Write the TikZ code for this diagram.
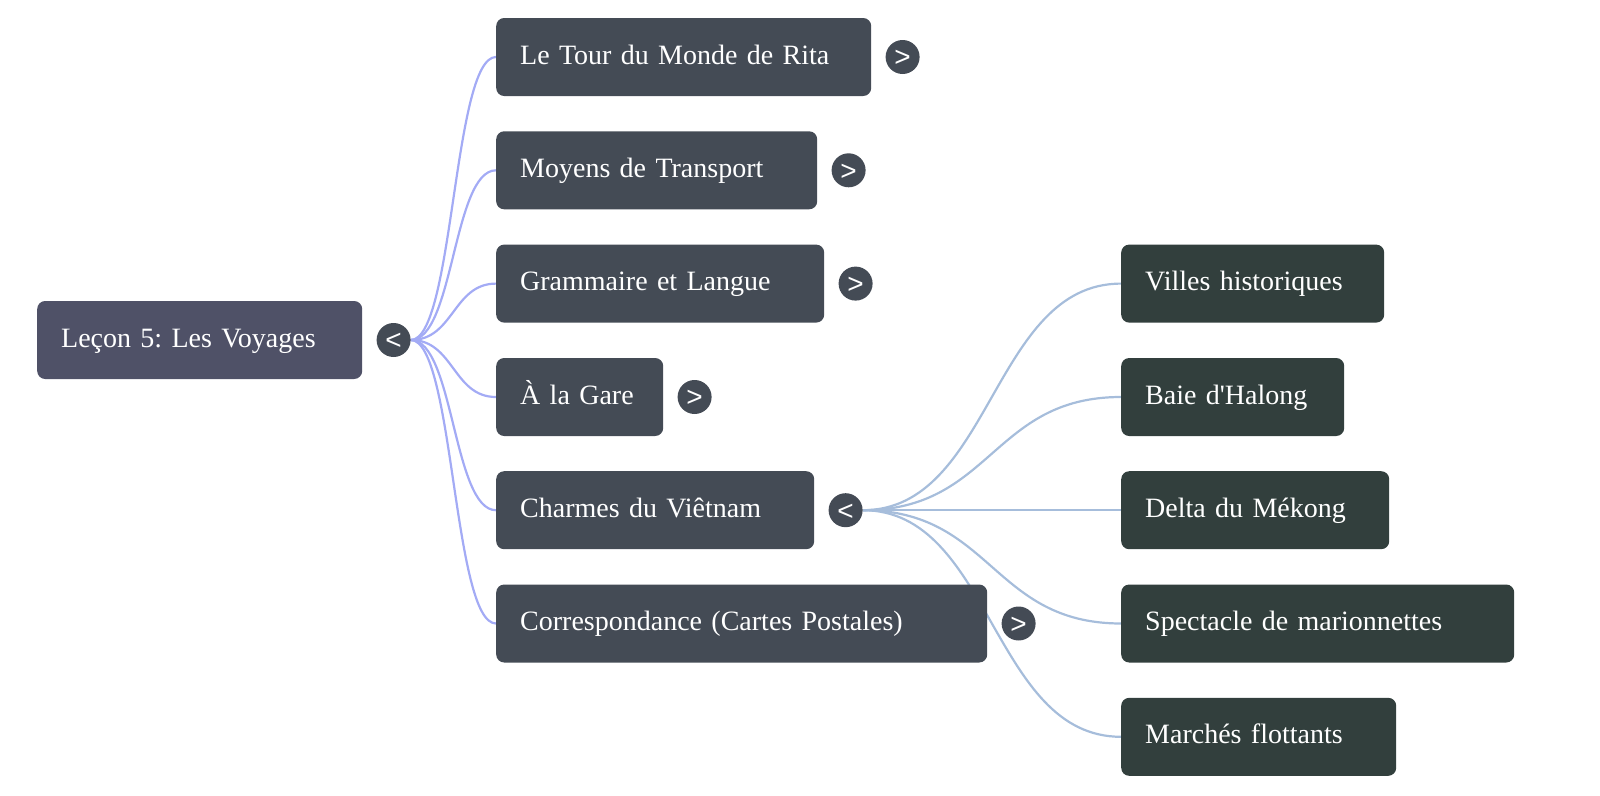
\documentclass[tikz,border=0pt]{standalone}
\usepackage{fontspec}
\setmainfont{Liberation Serif}
\newfontfamily\togglefont{Liberation Sans}
\usetikzlibrary{positioning,backgrounds}
\definecolor{rootfill}{HTML}{4F5167}
\definecolor{onefill}{HTML}{444B55}
\definecolor{twofill}{HTML}{323F3D}
\definecolor{rootline}{HTML}{A3ABF5}
\definecolor{subline}{HTML}{A6BDDB}
\tikzset{
	box/.style={rounded corners=8pt, text=white, minimum height=78pt, text height=21pt, text depth=7pt, inner xsep=24pt, inner ysep=0pt, align=left, anchor=west, font=\fontsize{28}{32}\selectfont\frenchspacing},
	rootbox/.style={box, fill=rootfill},
	lvlone/.style={box, fill=onefill},
	lvltwo/.style={box, fill=twofill},
	toggle/.style={circle, fill=onefill, text=white, minimum size=34pt, inner sep=0pt, text height=19.6pt, text depth=0pt, font=\togglefont\fontsize{28}{28}\selectfont},
	rootedge/.style={draw=rootline, line width=2.2pt},
	subedge/.style={draw=subline, line width=2.2pt}
}

\begin{document}
\begin{tikzpicture}[x=1pt, y=-1pt]
			%%%%% START %%%%%
			\useasboundingbox (0,0) rectangle (1600,795);
			
			\node[rootbox, text width=277pt] (root) at (37,340) {Leçon 5: Les Voyages};
			\node[toggle, right=14pt of root] (troot) {<};
			
			\node[lvlone, text width=327pt] (tour) at (496,57) {Le Tour du Monde de Rita};
			\node[lvlone, text width=273pt] (moyens) at (496,170.3) {Moyens de Transport};
			\node[lvlone, text width=280pt] (gram) at (496,283.6) {Grammaire et Langue};
			\node[lvlone, text width=119pt] (gare) at (496,397) {À la Gare};
			\node[lvlone, text width=270pt] (charmes) at (496,510.2) {Charmes du Viêtnam};
			\node[lvlone, text width=443pt] (corresp) at (496,623.5) {Correspondance (Cartes Postales)};
			
			\node[toggle, right=14pt of tour] (ttour) {>};
			\node[toggle, right=14pt of moyens] (tmoyens) {>};
			\node[toggle, right=14pt of gram] (tgram) {>};
			\node[toggle, right=14pt of gare] (tgare) {>};
			\node[toggle, right=14pt of charmes] (tcharmes) {<};
			\node[toggle, right=14pt of corresp] (tcorresp) {>};
			
			\node[lvltwo, text width=215pt] (villes) at (1121,283.6) {Villes historiques};
			\node[lvltwo, text width=175pt] (baie) at (1121,397) {Baie d\textquotesingle Halong};
			\node[lvltwo, text width=220pt] (delta) at (1121,510.2) {Delta du Mékong};
			\node[lvltwo, text width=345pt] (spect) at (1121,623.5) {Spectacle de marionnettes};
			\node[lvltwo, text width=227pt] (marches) at (1121,736.8) {Marchés flottants};
			
			% links go behind the boxes
			\begin{scope}[on background layer]
				\foreach \n in {tour,moyens,gram,gare,charmes,corresp}
					\draw[rootedge] (troot.east) .. controls +(43,0) and +(-43,0) .. (\n.west);
				\foreach \n in {villes,baie,delta,spect,marches}
					\draw[subedge] (tcharmes.east) .. controls +(129,0) and +(-129,0) .. (\n.west);
			\end{scope}
			
			%%%%% END %%%%%
\end{tikzpicture}
\end{document}
